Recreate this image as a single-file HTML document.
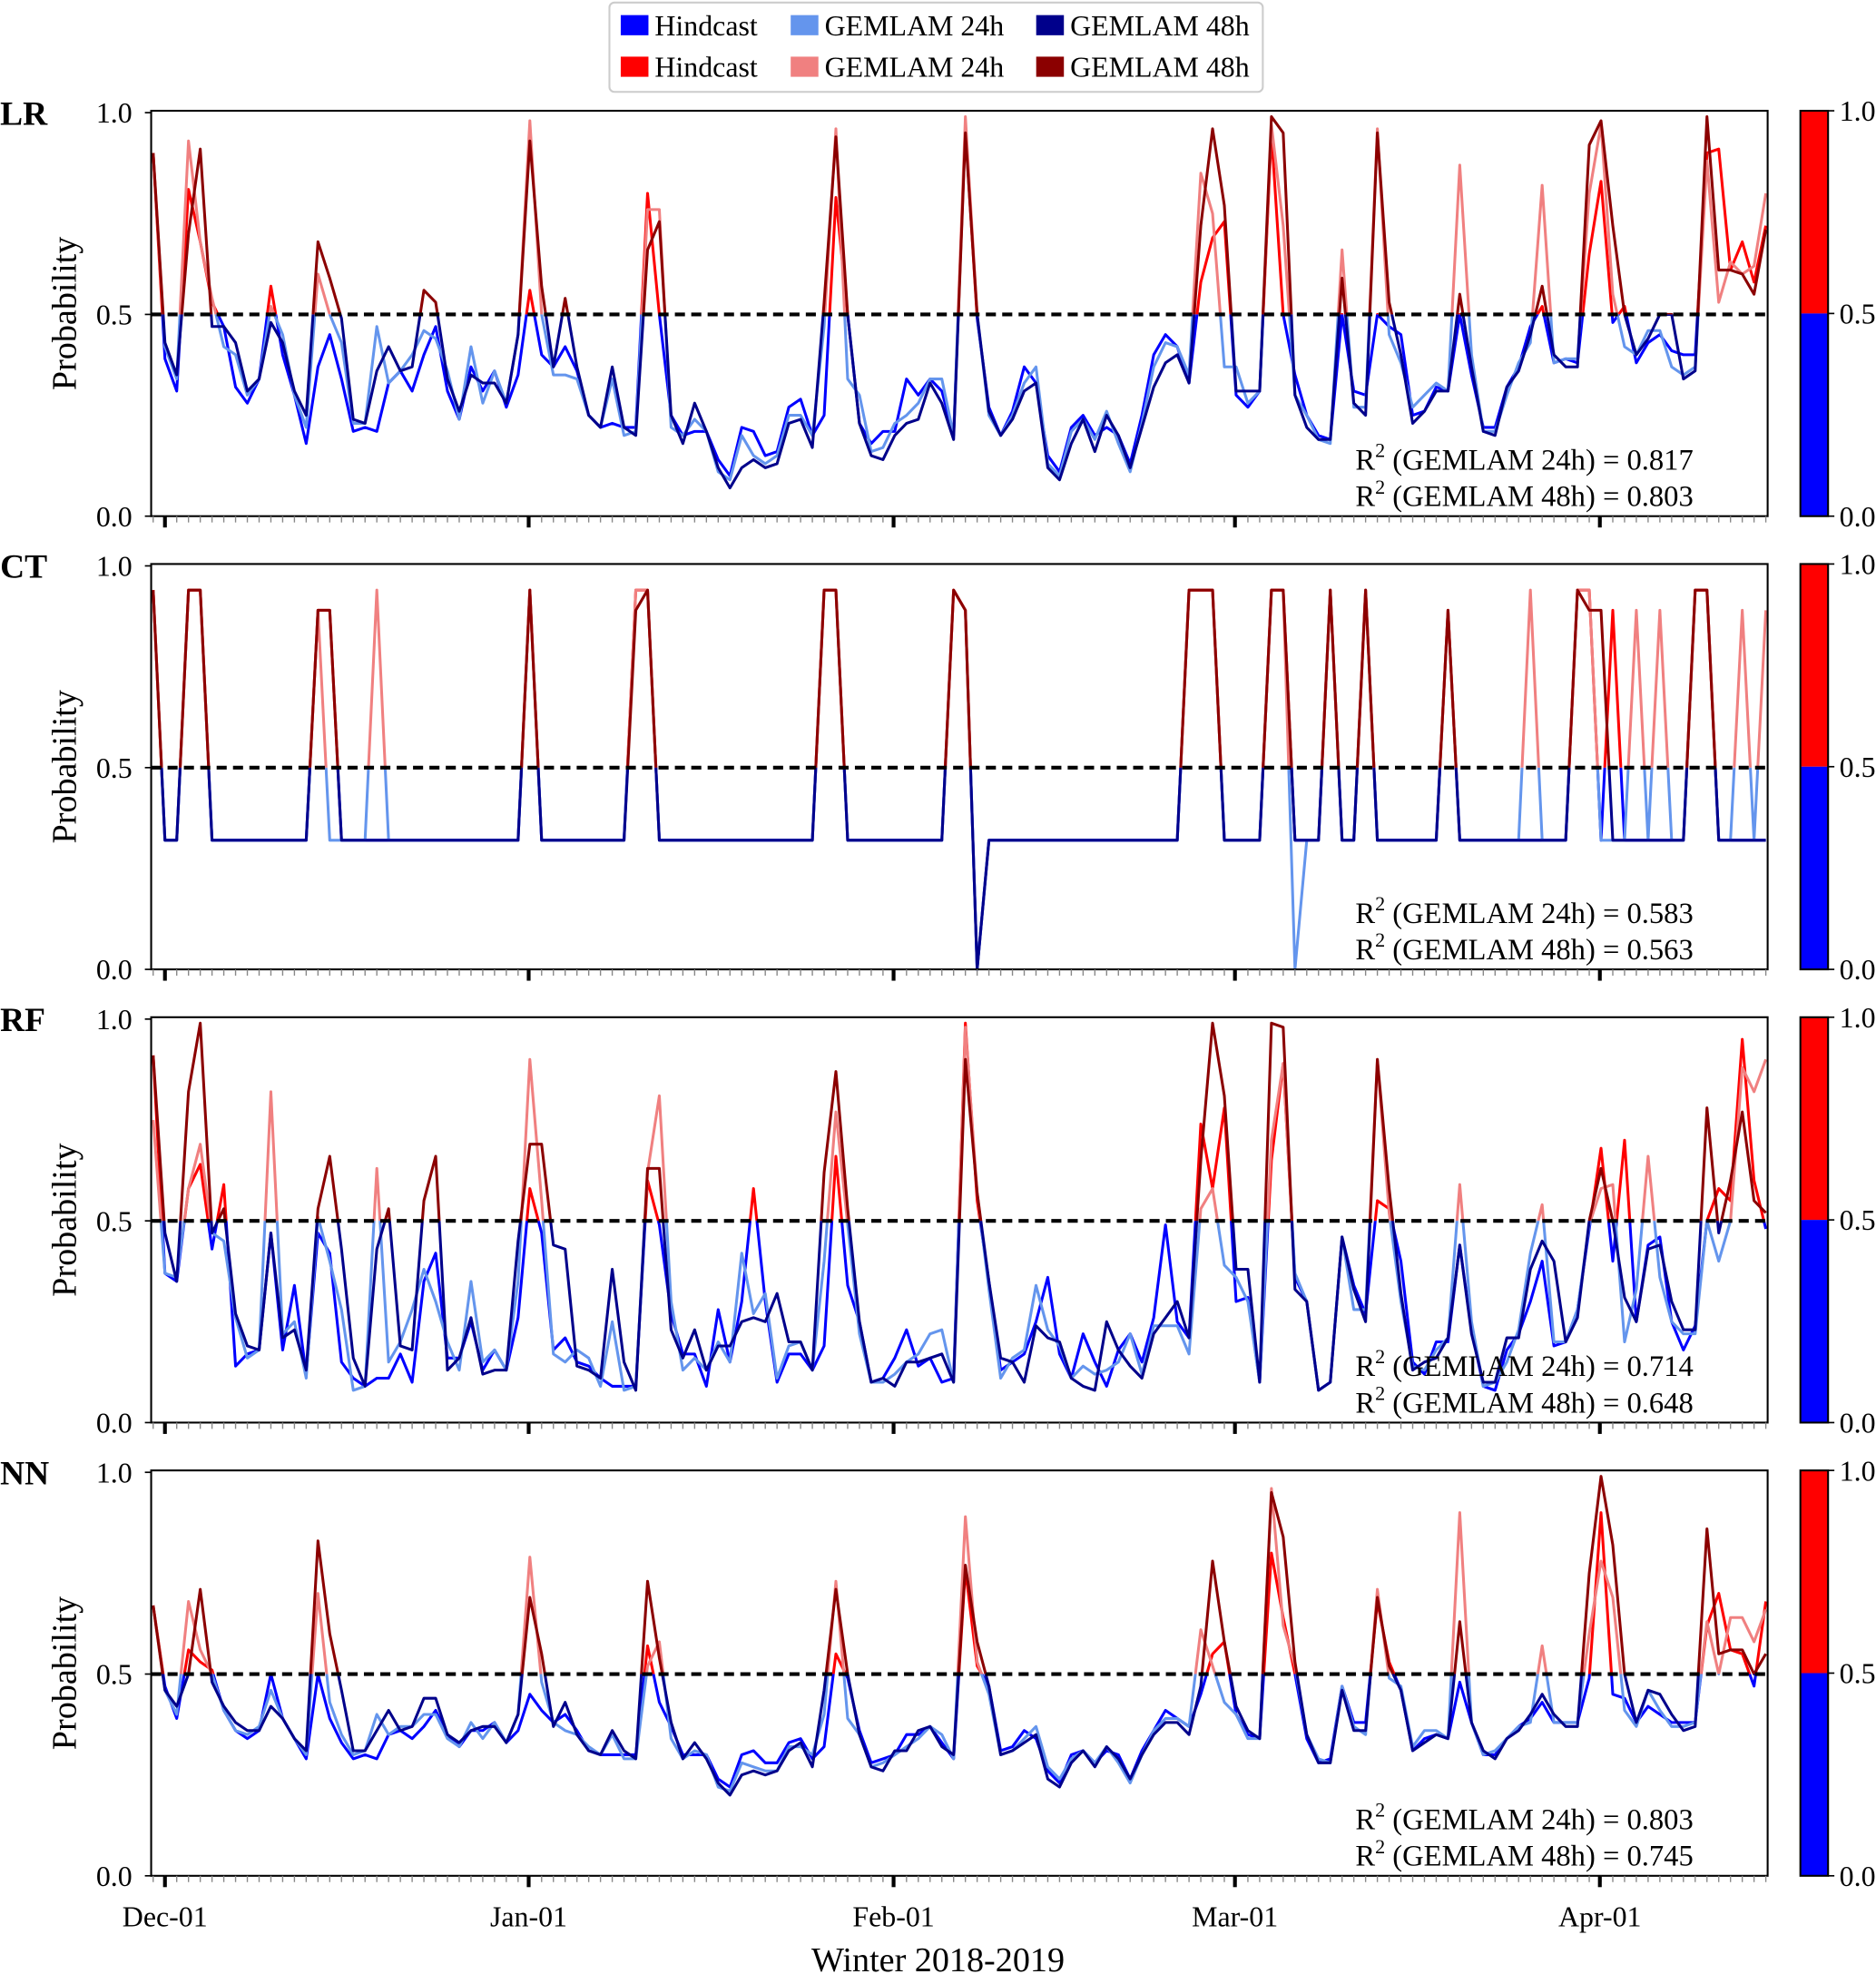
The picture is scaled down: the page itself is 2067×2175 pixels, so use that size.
<!DOCTYPE html>
<html><head><meta charset="utf-8"><style>
html,body{margin:0;padding:0;background:#fff;}
svg{display:block;font-family:"Liberation Serif","DejaVu Serif",serif;}
</style></head><body>
<svg id="chart" width="2067" height="2175" viewBox="0 0 1490 1568" xmlns="http://www.w3.org/2000/svg">
<g id="legend">
<rect x="484" y="2" width="519" height="71" rx="4" fill="#fff" stroke="#ccc" stroke-width="1.5"/>
<g><rect x="493" y="12" width="22" height="16" fill="#0000ff"/><text x="520" y="28" font-size="23">Hindcast</text></g>
<g><rect x="628" y="12" width="22" height="16" fill="#6495ed"/><text x="655" y="28" font-size="23">GEMLAM 24h</text></g>
<g><rect x="823" y="12" width="22" height="16" fill="#00008b"/><text x="850" y="28" font-size="23">GEMLAM 48h</text></g>
<g><rect x="493" y="45" width="22" height="16" fill="#ff0000"/><text x="520" y="61" font-size="23">Hindcast</text></g>
<g><rect x="628" y="45" width="22" height="16" fill="#f08080"/><text x="655" y="61" font-size="23">GEMLAM 24h</text></g>
<g><rect x="823" y="45" width="22" height="16" fill="#8b0000"/><text x="850" y="61" font-size="23">GEMLAM 48h</text></g>
</g>
<text x="745" y="1566" font-size="27.5" text-anchor="middle">Winter 2018-2019</text>
</svg>
<script>
const panelNames = ["LR","CT","RF","NN"];
const r2Labels24 = ["0.817","0.583","0.714","0.803"];
const r2Labels48 = ["0.803","0.563","0.648","0.745"];
const monthLabels = ["Dec-01","Jan-01","Feb-01","Mar-01","Apr-01"];
const monthDays = [1.0,31.9,62.9,91.9,122.9];
const yTickValues = [0,0.5,1.0];
const yTickLabels = ["0.0","0.5","1.0"];

const lrHind = [.90,.39,.31,.81,.68,.53,.47,.32,.28,.34,.57,.40,.30,.18,.37,.45,.34,.21,.22,.21,.33,.36,.31,.40,.47,.31,.24,.37,.31,.36,.27,.35,.56,.40,.37,.42,.36,.25,.22,.23,.22,.22,.80,.50,.25,.20,.21,.21,.14,.10,.22,.21,.15,.16,.27,.29,.20,.25,.79,.50,.23,.18,.21,.21,.34,.30,.34,.31,.20,.96,.49,.27,.20,.26,.37,.33,.15,.11,.22,.25,.20,.22,.20,.13,.25,.40,.45,.42,.33,.58,.69,.73,.30,.27,.31,.95,.50,.35,.25,.20,.19,.50,.31,.30,.50,.47,.45,.25,.26,.32,.31,.50,.35,.22,.22,.32,.37,.47,.52,.38,.39,.38,.65,.83,.48,.52,.38,.43,.45,.41,.40,.40,.90,.91,.61,.68,.58,.72];
const lrG24 = [.90,.42,.34,.93,.68,.54,.42,.40,.30,.34,.52,.45,.30,.22,.60,.50,.43,.23,.23,.47,.33,.36,.40,.46,.44,.36,.24,.42,.28,.36,.28,.45,.98,.50,.35,.35,.34,.25,.22,.34,.20,.21,.76,.76,.22,.20,.24,.21,.11,.09,.20,.15,.13,.15,.25,.25,.20,.47,.96,.34,.30,.16,.17,.23,.25,.28,.34,.34,.20,.99,.50,.25,.20,.25,.33,.37,.13,.10,.21,.24,.19,.26,.18,.11,.23,.37,.43,.42,.35,.85,.75,.37,.37,.28,.31,.97,.72,.30,.25,.19,.18,.66,.27,.27,.96,.45,.38,.27,.30,.33,.31,.87,.40,.21,.21,.30,.38,.43,.82,.38,.39,.39,.80,.97,.55,.42,.40,.46,.46,.37,.35,.37,.88,.53,.63,.60,.62,.80];
const lrG48 = [.90,.43,.35,.70,.91,.47,.47,.43,.31,.34,.48,.43,.31,.25,.68,.59,.49,.24,.23,.36,.42,.36,.37,.56,.53,.34,.26,.35,.33,.33,.28,.45,.93,.57,.37,.54,.37,.25,.22,.37,.22,.20,.66,.73,.25,.18,.28,.21,.12,.07,.12,.14,.12,.13,.23,.24,.17,.53,.94,.50,.23,.15,.14,.20,.23,.24,.33,.28,.19,.95,.50,.26,.20,.24,.31,.33,.12,.09,.18,.24,.16,.25,.20,.12,.22,.32,.38,.40,.33,.72,.96,.77,.31,.31,.31,.99,.95,.30,.22,.19,.19,.59,.28,.25,.95,.53,.40,.23,.26,.31,.31,.55,.37,.21,.20,.32,.36,.45,.57,.40,.37,.37,.92,.98,.72,.50,.40,.44,.50,.50,.34,.36,.99,.61,.61,.60,.55,.71];

const ctHind = [.94,.32,.32,.94,.94,.32,.32,.32,.32,.32,.32,.32,.32,.32,.89,.89,.32,.32,.32,.32,.32,.32,.32,.32,.32,.32,.32,.32,.32,.32,.32,.32,.94,.32,.32,.32,.32,.32,.32,.32,.32,.94,.94,.32,.32,.32,.32,.32,.32,.32,.32,.32,.32,.32,.32,.32,.32,.94,.94,.32,.32,.32,.32,.32,.32,.32,.32,.32,.94,.89,0,.32,.32,.32,.32,.32,.32,.32,.32,.32,.32,.32,.32,.32,.32,.32,.32,.32,.94,.94,.94,.32,.32,.32,.32,.94,.94,.32,.32,.32,.94,.32,.32,.94,.32,.32,.32,.32,.32,.32,.89,.32,.32,.32,.32,.32,.32,.32,.32,.32,.32,.94,.94,.32,.89,.32,.32,.32,.32,.32,.32,.94,.94,.32,.32,.32,.32,.32];
const ctG24 = [.94,.32,.32,.94,.94,.32,.32,.32,.32,.32,.32,.32,.32,.32,.89,.32,.32,.32,.32,.94,.32,.32,.32,.32,.32,.32,.32,.32,.32,.32,.32,.32,.94,.32,.32,.32,.32,.32,.32,.32,.32,.94,.94,.32,.32,.32,.32,.32,.32,.32,.32,.32,.32,.32,.32,.32,.32,.94,.94,.32,.32,.32,.32,.32,.32,.32,.32,.32,.94,.89,0,.32,.32,.32,.32,.32,.32,.32,.32,.32,.32,.32,.32,.32,.32,.32,.32,.32,.94,.94,.94,.32,.32,.32,.32,.94,.94,0,.32,.32,.94,.32,.32,.94,.32,.32,.32,.32,.32,.32,.89,.32,.32,.32,.32,.32,.32,.94,.32,.32,.32,.94,.94,.32,.32,.32,.89,.32,.89,.32,.32,.94,.94,.32,.32,.89,.32,.89];
const ctG48 = [.94,.32,.32,.94,.94,.32,.32,.32,.32,.32,.32,.32,.32,.32,.89,.89,.32,.32,.32,.32,.32,.32,.32,.32,.32,.32,.32,.32,.32,.32,.32,.32,.94,.32,.32,.32,.32,.32,.32,.32,.32,.89,.94,.32,.32,.32,.32,.32,.32,.32,.32,.32,.32,.32,.32,.32,.32,.94,.94,.32,.32,.32,.32,.32,.32,.32,.32,.32,.94,.89,0,.32,.32,.32,.32,.32,.32,.32,.32,.32,.32,.32,.32,.32,.32,.32,.32,.32,.94,.94,.94,.32,.32,.32,.32,.94,.94,.32,.32,.32,.94,.32,.32,.94,.32,.32,.32,.32,.32,.32,.89,.32,.32,.32,.32,.32,.32,.32,.32,.32,.32,.94,.89,.89,.32,.32,.32,.32,.32,.32,.32,.94,.94,.32,.32,.32,.32,.32];

const rfHind = [.91,.37,.35,.58,.64,.43,.59,.14,.17,.18,.47,.18,.34,.12,.47,.42,.15,.11,.09,.11,.11,.17,.10,.35,.42,.16,.16,.25,.13,.18,.13,.26,.58,.47,.18,.21,.15,.14,.11,.09,.09,.09,.60,.49,.27,.17,.17,.09,.28,.15,.30,.58,.30,.10,.17,.17,.13,.19,.66,.34,.25,.10,.11,.16,.23,.14,.16,.10,.11,.99,.55,.35,.13,.15,.17,.25,.36,.17,.11,.22,.15,.09,.18,.22,.15,.26,.49,.25,.21,.74,.58,.78,.30,.31,.10,.65,.89,.36,.30,.08,.10,.46,.34,.27,.55,.53,.40,.15,.12,.20,.20,.44,.23,.09,.08,.18,.22,.30,.40,.19,.20,.28,.48,.68,.40,.70,.25,.44,.46,.25,.18,.24,.50,.58,.55,.95,.60,.48];
const rfG24 = [.75,.37,.36,.58,.69,.47,.45,.26,.16,.18,.82,.22,.25,.11,.51,.40,.28,.08,.09,.63,.15,.20,.28,.38,.30,.20,.13,.35,.15,.18,.13,.35,.90,.55,.17,.15,.18,.16,.09,.25,.08,.09,.62,.81,.30,.13,.16,.13,.20,.15,.42,.27,.32,.11,.19,.20,.13,.40,.77,.49,.22,.10,.10,.12,.15,.17,.22,.23,.10,.98,.57,.33,.11,.16,.18,.34,.23,.19,.11,.14,.12,.13,.15,.22,.12,.24,.24,.24,.17,.53,.58,.39,.36,.30,.10,.70,.89,.37,.30,.08,.10,.46,.28,.28,.90,.52,.30,.14,.13,.18,.21,.59,.25,.09,.10,.15,.23,.42,.54,.20,.20,.28,.49,.58,.59,.20,.33,.66,.36,.25,.22,.22,.50,.40,.50,.88,.82,.90];
const rfG48 = [.91,.47,.35,.82,.99,.47,.53,.27,.19,.18,.47,.21,.23,.13,.53,.66,.43,.16,.09,.43,.53,.19,.18,.55,.66,.13,.16,.26,.12,.13,.13,.45,.69,.69,.44,.43,.14,.13,.11,.38,.15,.08,.63,.63,.23,.16,.23,.13,.19,.19,.25,.26,.25,.32,.20,.20,.13,.62,.87,.53,.25,.10,.11,.09,.15,.15,.16,.17,.10,.90,.57,.35,.16,.15,.10,.24,.21,.20,.11,.09,.08,.25,.18,.14,.11,.22,.26,.30,.21,.65,.99,.81,.38,.38,.10,.99,.98,.33,.30,.08,.10,.46,.33,.25,.90,.58,.32,.13,.15,.16,.21,.44,.22,.10,.10,.21,.21,.38,.45,.40,.20,.26,.50,.63,.50,.31,.25,.43,.44,.30,.23,.23,.78,.47,.60,.77,.55,.52];

const nnHind = [.67,.47,.39,.56,.53,.51,.41,.36,.34,.36,.50,.39,.34,.29,.50,.39,.33,.29,.30,.29,.35,.36,.34,.37,.41,.35,.32,.36,.36,.38,.33,.36,.45,.41,.38,.40,.36,.31,.30,.30,.30,.30,.57,.43,.37,.30,.30,.30,.24,.22,.30,.31,.28,.28,.33,.34,.29,.32,.55,.49,.36,.28,.29,.30,.35,.35,.37,.33,.29,.76,.52,.47,.31,.32,.36,.34,.26,.23,.30,.31,.28,.31,.30,.24,.31,.36,.41,.39,.37,.45,.55,.58,.40,.35,.34,.80,.64,.50,.34,.28,.29,.47,.38,.38,.68,.53,.46,.31,.34,.35,.34,.48,.38,.30,.30,.34,.37,.39,.43,.38,.38,.38,.49,.90,.45,.44,.38,.42,.40,.38,.38,.38,.62,.70,.56,.55,.47,.68];
const nnG24 = [.67,.46,.40,.68,.56,.50,.41,.36,.35,.37,.46,.39,.34,.30,.70,.43,.35,.30,.31,.40,.35,.37,.37,.40,.40,.34,.32,.38,.34,.38,.33,.40,.79,.48,.38,.36,.35,.32,.30,.35,.29,.29,.52,.58,.34,.29,.31,.30,.22,.21,.28,.27,.26,.26,.32,.32,.30,.40,.73,.39,.35,.27,.28,.30,.32,.34,.37,.35,.29,.89,.53,.45,.30,.31,.34,.37,.27,.24,.29,.31,.28,.32,.28,.23,.30,.36,.39,.39,.37,.61,.52,.43,.40,.34,.34,.96,.62,.52,.35,.29,.28,.47,.37,.35,.71,.49,.47,.32,.36,.36,.34,.90,.38,.30,.31,.34,.37,.38,.57,.38,.38,.38,.60,.78,.69,.41,.37,.46,.41,.37,.37,.38,.63,.50,.64,.64,.58,.66];
const nnG48 = [.67,.46,.42,.50,.71,.48,.42,.38,.36,.36,.42,.39,.34,.31,.83,.60,.46,.31,.31,.36,.41,.36,.37,.44,.44,.35,.33,.36,.37,.37,.33,.40,.69,.55,.37,.43,.35,.31,.30,.36,.31,.29,.73,.54,.38,.29,.33,.29,.23,.20,.25,.26,.25,.26,.31,.33,.27,.46,.71,.50,.35,.27,.26,.31,.31,.36,.37,.32,.30,.77,.58,.47,.30,.31,.33,.35,.24,.22,.28,.31,.27,.32,.29,.24,.30,.35,.38,.38,.35,.47,.78,.58,.42,.36,.34,.95,.84,.53,.35,.28,.28,.46,.36,.36,.69,.52,.46,.31,.33,.35,.34,.63,.38,.31,.29,.34,.36,.40,.45,.40,.37,.37,.75,.99,.82,.50,.38,.46,.45,.40,.36,.37,.86,.55,.56,.56,.50,.55];

const panelSeries = [[lrHind,lrG24,lrG48],[ctHind,ctG24,ctG48],[rfHind,rfG24,rfG48],[nnHind,nnG24,nnG48]];
const seriesKeys = ["hindcast","gemlam-24h","gemlam-48h"];
const lowColors = ["#0000ff","#6495ed","#00008b"];
const highColors = ["#ff0000","#f08080","#8b0000"];

const NS = "http://www.w3.org/2000/svg";
const svg = document.getElementById("chart");
const X0 = 120, X1 = 1404;
const panelTops = [88,448,808,1168];
const PH = 322;
function xScale(d){ return 121.6 + 9.35*d; }
function mk(tag, attrs, parent){ const e=document.createElementNS(NS,tag); for(const k in attrs) e.setAttribute(k,attrs[k]); (parent||svg).appendChild(e); return e; }

panelNames.forEach((name,pi)=>{
  const top = panelTops[pi], bot = top+PH;
  const yScale = v => bot - v*(PH-1.5);
  const g = mk("g",{});
  
  
  const defs = mk("defs",{},g);
  const ca = mk("clipPath",{id:"ca"+pi},defs);
  mk("rect",{x:X0,y:top-10,width:X1-X0,height:yScale(0.5)-top+10},ca);
  const cb = mk("clipPath",{id:"cb"+pi},defs);
  mk("rect",{x:X0,y:yScale(0.5),width:X1-X0,height:bot-yScale(0.5)+10},cb);
  panelSeries[pi].forEach((arr,si)=>{
    let d = "";
    arr.forEach((v,i)=>{ d += (i?"L":"M")+xScale(i).toFixed(2)+","+yScale(v).toFixed(2); });
    const lo = mk("path",{d:d,fill:"none",stroke:lowColors[si],"stroke-width":2.2,"stroke-linejoin":"round","clip-path":"url(#cb"+pi+")"},g);
    
    
    const hi = mk("path",{d:d,fill:"none",stroke:highColors[si],"stroke-width":2.2,"stroke-linejoin":"round","clip-path":"url(#ca"+pi+")"},g);
    
    
  });
  const th = mk("line",{x1:X0,x2:X1,y1:yScale(0.5),y2:yScale(0.5),stroke:"#000","stroke-width":3,"stroke-dasharray":"8,5"},g);
  
  
  const fr = mk("rect",{x:X0,y:top,width:X1-X0,height:PH,fill:"none",stroke:"#000","stroke-width":1.5},g);
  
  
  yTickValues.forEach((v,ti)=>{
    mk("line",{x1:X0-5,x2:X0,y1:yScale(v),y2:yScale(v),stroke:"#000","stroke-width":1.2},g);
    const t = mk("text",{x:X0-15,y:yScale(v)+8,"font-size":23,"text-anchor":"end"},g);
    t.textContent = yTickLabels[ti];
    
    
  });
  for(let i=0;i<=137;i++){
    mk("line",{x1:xScale(i),x2:xScale(i),y1:bot,y2:bot+5,stroke:"#888","stroke-width":1},g);
  }
  monthDays.forEach((md,mi)=>{
    mk("line",{x1:xScale(md),x2:xScale(md),y1:bot,y2:bot+9,stroke:"#000","stroke-width":3},g);
    if(pi===3){
      const t = mk("text",{x:xScale(md),y:bot+40,"font-size":23,"text-anchor":"middle"},g);
      t.textContent = monthLabels[mi];
      
      
    }
  });
  const pl = mk("text",{x:0,y:top+11,"font-size":27,"font-weight":"bold"},g);
  pl.textContent = name;
  
  
  const yl = mk("text",{x:0,y:0,"font-size":27.5,"text-anchor":"middle",transform:"translate(60,"+(top+PH/2)+") rotate(-90)"},g);
  yl.textContent = "Probability";
  
  
  [[r2Labels24[pi],"24h",bot-37],[r2Labels48[pi],"48h",bot-8]].forEach(r=>{
    const t = mk("text",{x:1345,y:r[2],"font-size":23.5,"text-anchor":"end"},g);
    
    
    const a = mk("tspan",{},t); a.textContent="R";
    const b = mk("tspan",{dy:-10,"font-size":16},t); b.textContent="2";
    const c = mk("tspan",{dy:10},t); c.textContent=" (GEMLAM "+r[1]+") = "+r[0];
  });
  const cbg = mk("g",{},g);
  
  
  mk("rect",{x:1430,y:top,width:22,height:PH/2,fill:"#ff0000"},cbg);
  mk("rect",{x:1430,y:top+PH/2,width:22,height:PH/2,fill:"#0000ff"},cbg);
  mk("rect",{x:1430,y:top,width:22,height:PH,fill:"none",stroke:"#000","stroke-width":1.5},cbg);
  yTickValues.forEach((v,ti)=>{
    const yy = bot - v*PH;
    mk("line",{x1:1452,x2:1457,y1:yy,y2:yy,stroke:"#000","stroke-width":1.2},cbg);
    const t = mk("text",{x:1461,y:yy+8,"font-size":23},cbg);
    t.textContent = yTickLabels[ti];
    
    
  });
});
</script>
</body></html>
